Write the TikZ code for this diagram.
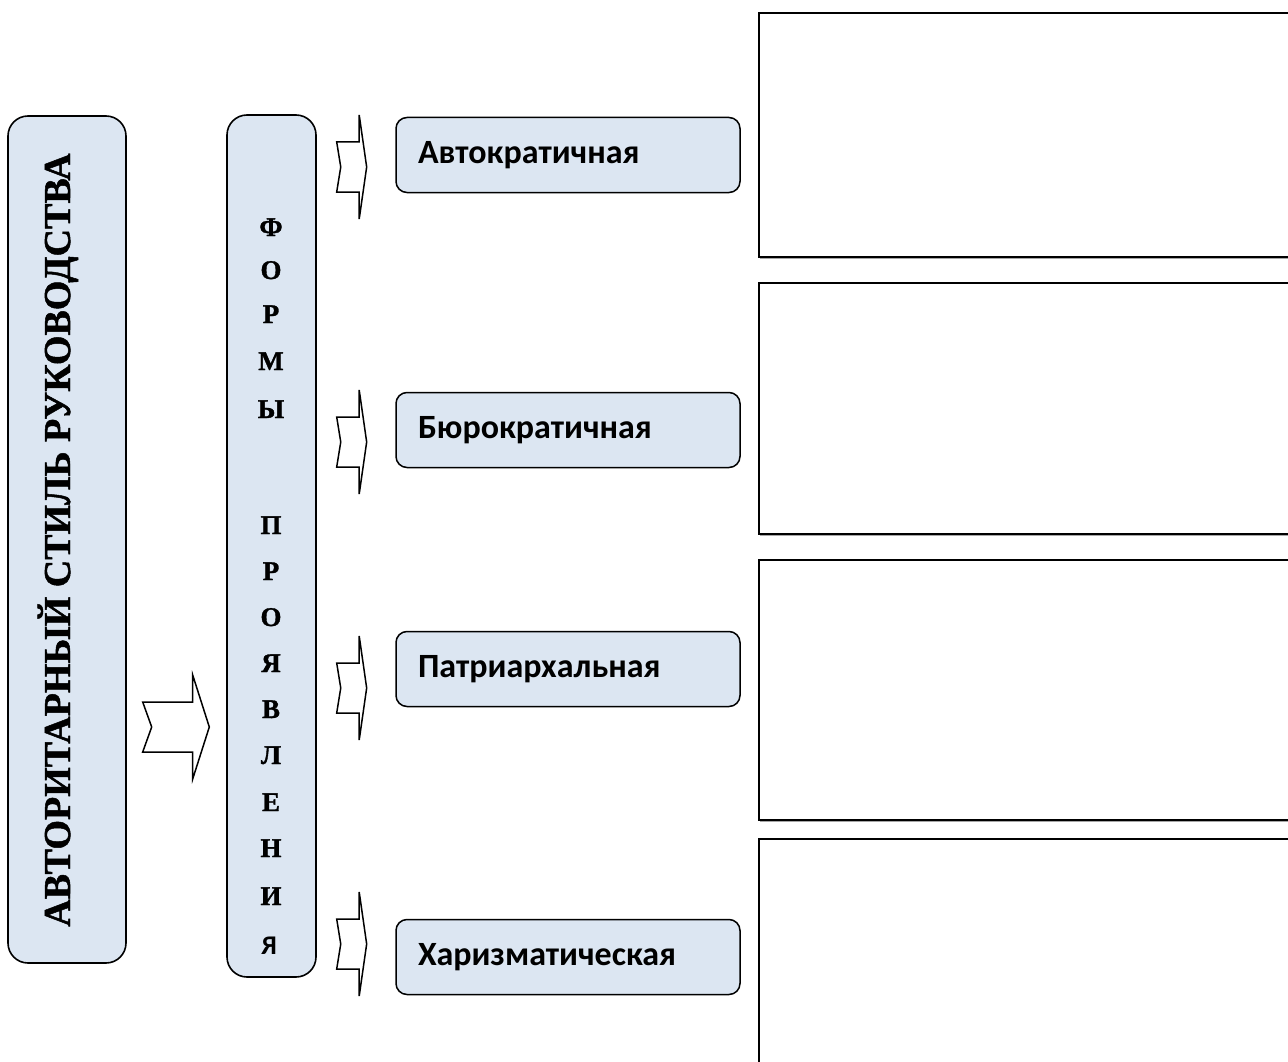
\documentclass[tikz,border=0pt]{standalone}
\usepackage{fontspec}
\setmainfont{Liberation Serif}
\newfontfamily\tnrb{Liberation Serif Bold}[FakeBold=1.3]
\newfontfamily\calibri{Carlito}[BoldFont={Carlito Bold}]
\usetikzlibrary{shadows}
\definecolor{svetlosiniy}{HTML}{DCE6F2}

\tikzset{
  kruglyi/.style = {draw, line width=1.6pt, rounded corners=20pt, fill=svetlosiniy},
  forma/.style = {draw, line width=1.5pt, rounded corners=11pt, fill=svetlosiniy,
    minimum width=344pt, minimum height=75pt, text width=300pt, align=left,
    inner xsep=22pt, font=\calibri\bfseries\fontsize{34}{40}\selectfont},
  pole/.style = {draw, fill=white, line width=2.4pt, minimum width=545pt, anchor=north west,
    inner sep=0pt, drop shadow={shadow xshift=0.6pt, shadow yshift=-1.4pt, fill=gray, opacity=0.7}},
  bukva/.style = {anchor=base, font=\tnrb\fontsize{27}{27}\selectfont},
  strelka/.pic = {\draw[line width=1.5pt, fill=white, line join=miter]
    (0,-25) -- (9,0) -- (0,25) -- (50,25) -- (50,52) -- (66.6,0) -- (50,-52) -- (50,-25) -- cycle;}
}

\begin{document}
\begin{tikzpicture}[x=1pt, y=1pt]
\clip (0,0) rectangle (1288,-1062);

% left column
\node[kruglyi, minimum width=118pt, minimum height=847pt] (stil) at (67,-539.5) {};
\node[rotate=90, anchor=base, font=\tnrb\fontsize{38}{38}\selectfont] (stiltxt)
  at (70,-540) {АВТОРИТАРНЫЙ СТИЛЬ РУКОВОДСТВА};

% middle column
\node[kruglyi, minimum width=89pt, minimum height=862pt] (formy) at (271.5,-546) {};
\foreach \b/\y [count=\i] in {Ф/227, О/270, Р/314, М/361, Ы/409,
    П/525, Р/571, О/617, Я/663, В/709, Л/755, Е/802, Н/848, И/896}
  \node[bukva] (b\i) at (271,-\y-9) {\b};
\node[bukva, font=\calibri\bfseries\fontsize{27}{27}\selectfont] (b15) at (269,-954) {Я};

% forms
\node[forma] (avto) at (568,-155) {Автократичная};
\node[forma] (buro) at (568,-430) {Бюрократичная};
\node[forma] (patr) at (568,-669) {Патриархальная};
\node[forma] (hari) at (568,-957) {Харизматическая};

% empty fields
\node[pole, minimum height=244pt] (pole1) at (758,-12) {};
\node[pole, minimum height=251pt] (pole2) at (758,-282) {};
\node[pole, minimum height=260pt] (pole3) at (758,-559) {};
\node[pole, minimum height=240pt] (pole4) at (758,-838) {};

% arrows
\pic at (142.7,-727) {strelka};
\pic[xscale=0.45] at (336.7,-167) {strelka};
\pic[xscale=0.45] at (336.7,-442) {strelka};
\pic[xscale=0.45] at (336.7,-688) {strelka};
\pic[xscale=0.45] at (336.7,-944) {strelka};
\end{tikzpicture}
\end{document}
